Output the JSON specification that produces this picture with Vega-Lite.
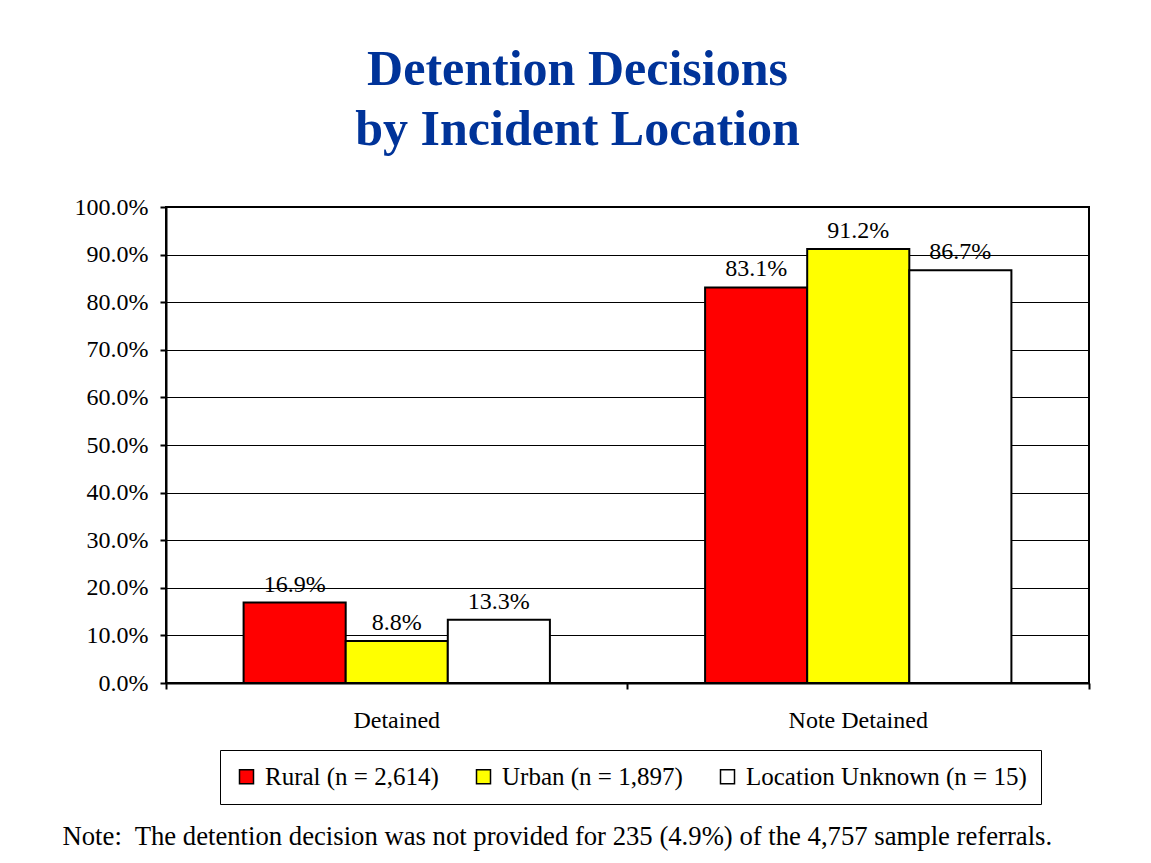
{
  "$schema": "https://vega.github.io/schema/vega-lite/v6.json",
  "autosize": "none",
  "width": 923,
  "height": 476,
  "padding": {"left": 166, "top": 207, "right": 62, "bottom": 180},
  "background": "white",
  "config": {
    "font": "Liberation Serif",
    "view": {"stroke": "black", "strokeWidth": 2},
    "axis": {"labelFont": "Liberation Serif", "labelColor": "black", "labelFontSize": 24, "titleFont": "Liberation Serif", "domainColor": "black", "tickColor": "black"}
  },
  "title": {
    "text": ["Detention Decisions", "by Incident Location"],
    "font": "Liberation Serif",
    "fontSize": 50,
    "fontWeight": "bold",
    "color": "#003399",
    "lineHeight": 60,
    "anchor": "middle",
    "dx": -50,
    "offset": 40
  },
  "data": {
    "values": [
      {"decision": "Detained", "location": "Rural (n = 2,614)", "share": 0.169},
      {"decision": "Detained", "location": "Urban (n = 1,897)", "share": 0.088},
      {"decision": "Detained", "location": "Location Unknown (n = 15)", "share": 0.133},
      {"decision": "Note Detained", "location": "Rural (n = 2,614)", "share": 0.831},
      {"decision": "Note Detained", "location": "Urban (n = 1,897)", "share": 0.912},
      {"decision": "Note Detained", "location": "Location Unknown (n = 15)", "share": 0.867}
    ]
  },
  "encoding": {
    "x": {
      "field": "decision",
      "type": "nominal",
      "sort": ["Detained", "Note Detained"],
      "scale": {"paddingInner": 0, "paddingOuter": 0},
      "axis": {
        "title": "Note:\u00a0 The detention decision was not provided for 235 (4.9%) of the 4,757 sample referrals.",
        "titleFontSize": 26.7,
        "titleFontWeight": "normal",
        "titleColor": "black",
        "titleAnchor": "start",
        "titleAlign": "left",
        "titleBaseline": "alphabetic",
        "titleX": -104,
        "titleY": 161,
        "labelAngle": 0,
        "labelBaseline": "alphabetic",
        "labelPadding": 38,
        "bandPosition": 1,
        "tickExtra": true,
        "labelOffset": 0,
        "tickSize": 6,
        "tickWidth": 2,
        "domainWidth": 2,
        "grid": false
      }
    },
    "xOffset": {
      "field": "location",
      "type": "nominal",
      "sort": ["Rural (n = 2,614)", "Urban (n = 1,897)", "Location Unknown (n = 15)"],
      "scale": {"paddingInner": 0, "paddingOuter": 0.76}
    },
    "y": {
      "field": "share",
      "type": "quantitative",
      "scale": {"domain": [0, 1], "nice": false},
      "axis": {
        "title": null,
        "format": ".1%",
        "values": [0, 0.1, 0.2, 0.3, 0.4, 0.5, 0.6, 0.7, 0.8, 0.9, 1],
        "grid": true,
        "gridColor": "black",
        "gridWidth": 1,
        "gridOpacity": 1,
        "tickSize": 6,
        "tickWidth": 2,
        "domainWidth": 2,
        "labelPadding": 12
      }
    }
  },
  "layer": [
    {
      "mark": {"type": "bar", "stroke": "black", "strokeWidth": 2},
      "encoding": {
        "color": {
          "field": "location",
          "type": "nominal",
          "sort": ["Rural (n = 2,614)", "Urban (n = 1,897)", "Location Unknown (n = 15)"],
          "scale": {"range": ["#FF0000", "#FFFF00", "#FFFFFF"]},
          "legend": {
            "title": null,
            "orient": "none",
            "legendX": 54,
            "legendY": 543,
            "direction": "horizontal",
            "strokeColor": "black",
            "fillColor": "white",
            "padding": 14,
            "columnPadding": 32,
            "symbolType": "square",
            "symbolSize": 196,
            "symbolStrokeColor": "black",
            "symbolStrokeWidth": 1.5,
            "symbolOpacity": 1,
            "labelFont": "Liberation Serif",
            "labelFontSize": 25,
            "labelColor": "black",
            "labelOffset": 6,
            "labelLimit": 400
          }
        }
      }
    },
    {
      "mark": {"type": "text", "baseline": "alphabetic", "dy": -11, "font": "Liberation Serif", "fontSize": 24, "color": "black"},
      "encoding": {
        "text": {"field": "share", "type": "quantitative", "format": ".1%"}
      }
    }
  ]
}
